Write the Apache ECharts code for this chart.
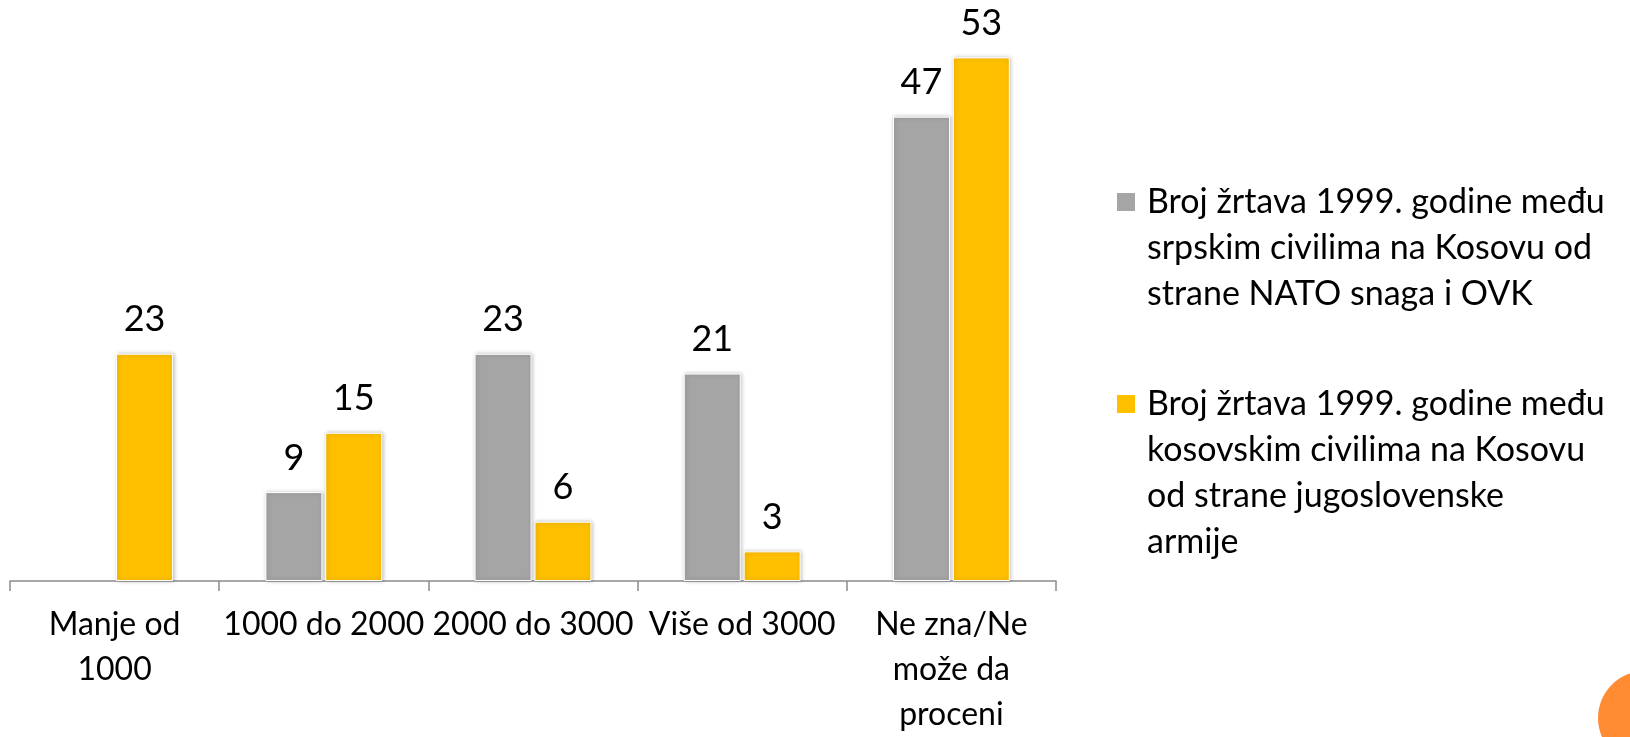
<!DOCTYPE html>
<html>
<head>
<meta charset="utf-8">
<script src="https://cdn.jsdelivr.net/npm/echarts@6/dist/echarts.min.js"></script>
<style>
  html, body { margin: 0; padding: 0; background: #fff; }
  #box01 { width: 1630px; height: 737px; }
</style>
</head>
<body>
<div id="box01"></div>
<script>
// kategorije i vrednosti
var categories = ['Manje od\n1000', '1000 do 2000', '2000 do 3000', 'Više od 3000', 'Ne zna/Ne\nmože da\nproceni'];
var seriesNames = [
    'Broj žrtava 1999. godine među\nsrpskim civilima na Kosovu od\nstrane NATO snaga i OVK',
    'Broj žrtava 1999. godine među\nkosovskim civilima na Kosovu\nod strane jugoslovenske\narmije'
];
var srpski = ['-', 9, 23, 21, 47];
var kosovski = [23, 15, 6, 3, 53];
var colors = ['#A5A5A5', '#FFC000'];

var FONT = 'Lato';

function barSeries(name, data, color) {
    return {
        name: name,
        type: 'bar',
        data: data,
        barWidth: 57,
        barGap: '5%',
        itemStyle: {
            color: color,
            borderColor: '#fff',
            borderWidth: 1,
            shadowColor: 'rgba(0,0,0,0.25)',
            shadowBlur: 4,
            shadowOffsetX: 1
        },
        label: {
            show: true,
            position: 'top',
            distance: 16,
            color: '#000',
            fontFamily: FONT,
            fontSize: 36
        }
    };
}

// legenda kao graficki elementi (ikona uz prvi red teksta)
var legendTop = [202, 404];
var legendGraphic = [];
seriesNames.forEach(function (n, i) {
    legendGraphic.push({
        type: 'rect',
        left: 1117, top: legendTop[i] - 9,
        shape: { width: 18, height: 18 },
        style: { fill: colors[i] }
    });
    legendGraphic.push({
        type: 'text',
        left: 1147, top: legendTop[i] - 23,
        style: {
            text: n,
            fontFamily: FONT,
            fontSize: 34,
            lineHeight: 46,
            fill: '#000'
        }
    });
});
legendGraphic.push({
    type: 'circle',
    shape: { cx: 1645, cy: 718, r: 47 },
    style: { fill: '#FF8B33' }
});

var myChart = echarts.init(document.getElementById('box01'));
var option = {
    animation: false,
    legend: { show: false },
    grid: { left: 10, right: 574, top: 8, bottom: 146, containLabel: false },
    xAxis: [{
        type: 'category',
        data: categories,
        axisLine: { lineStyle: { color: '#8C8C8C', width: 1.5 } },
        axisTick: { show: true, length: 10, lineStyle: { color: '#8C8C8C', width: 1.5 } },
        axisLabel: {
            color: '#000',
            fontFamily: FONT,
            fontSize: 32,
            lineHeight: 45,
            margin: 21,
            interval: 0
        }
    }],
    yAxis: [{
        type: 'value',
        min: 0,
        max: 58,
        show: false,
        splitLine: { show: false }
    }],
    series: [
        barSeries(seriesNames[0], srpski, colors[0]),
        barSeries(seriesNames[1], kosovski, colors[1])
    ],
    graphic: legendGraphic
};
myChart.setOption(option);
</script>
</body>
</html>
